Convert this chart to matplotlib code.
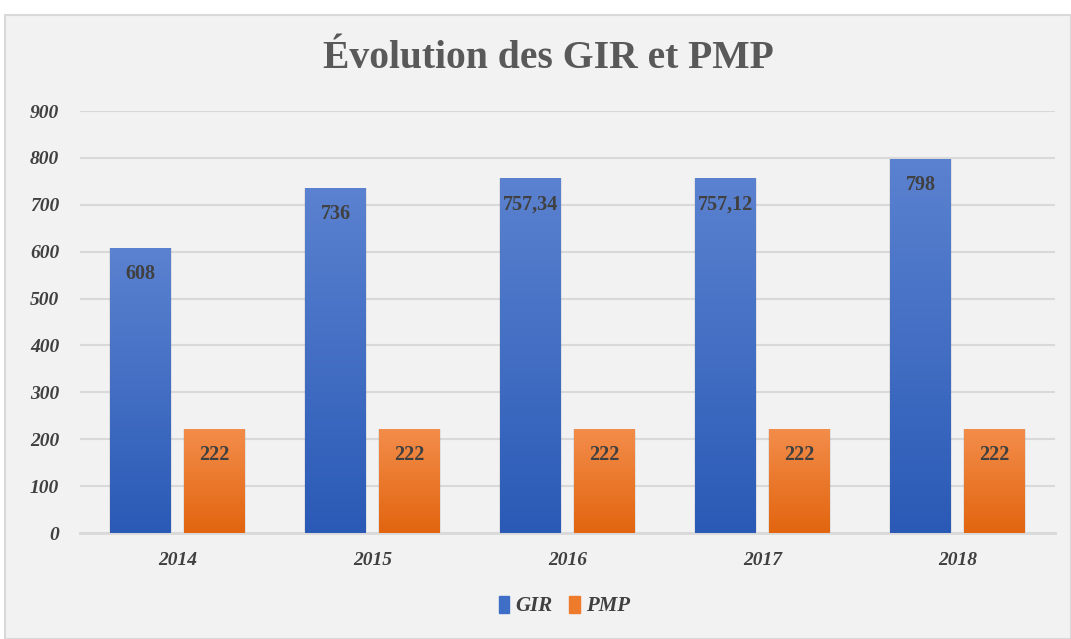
import numpy as np
import matplotlib
matplotlib.use("Agg")
import matplotlib.pyplot as plt
from matplotlib.patches import Rectangle
from matplotlib.colors import LinearSegmentedColormap

years = ["2014", "2015", "2016", "2017", "2018"]
gir = [608, 736, 757.34, 757.12, 798]
pmp = [222, 222, 222, 222, 222]
gir_labels = ["608", "736", "757,34", "757,12", "798"]
pmp_labels = ["222", "222", "222", "222", "222"]

TEXT = "#404040"
SERIF = ["Liberation Serif", "DejaVu Serif"]
plt.rcParams["font.family"] = SERIF

fig = plt.figure(figsize=(10.71, 6.39), dpi=100)
fig.patch.set_facecolor("white")

# chart area background (light grey panel with a thin border)
fig.patches.append(Rectangle((5 / 1071, 0), 1 - 5 / 1071, 1 - 15 / 639,
                             transform=fig.transFigure, facecolor="#f2f2f2",
                             edgecolor="#d9d9d9", lw=1.5, zorder=-10))

ax = fig.add_axes([80 / 1071, 1 - 533 / 639, 975 / 1071, 422 / 639])
ax.set_facecolor("none")

x = np.arange(len(years))
w = 0.31
off = 0.19

blue_cmap = LinearSegmentedColormap.from_list("b", ["#2a5ab6", "#5b82d0"])
orange_cmap = LinearSegmentedColormap.from_list("o", ["#e2650f", "#f38d4b"])

bars_g = ax.bar(x - off, gir, w, color="#3f6ec6", zorder=3)
bars_p = ax.bar(x + off, pmp, w, color="#ee7a2c", zorder=3)

grad = np.linspace(0, 1, 256).reshape(-1, 1)
for bars, cmap in ((bars_g, blue_cmap), (bars_p, orange_cmap)):
    for b in bars:
        x0, y0 = b.get_x(), b.get_y()
        bw, bh = b.get_width(), b.get_height()
        # soft shadow
        ax.add_patch(Rectangle((x0 - 0.006, y0), bw + 0.012, bh,
                               facecolor="#000000", alpha=0.07, lw=0, zorder=2))
        im = ax.imshow(grad, cmap=cmap, origin="lower", aspect="auto",
                       extent=(x0, x0 + bw, y0, y0 + bh), zorder=4)
        im.set_clip_path(b)

for b, lab in zip(bars_g, gir_labels):
    ax.annotate(lab, (b.get_x() + b.get_width() / 2, b.get_height()),
                xytext=(0, -19), textcoords="offset points", ha="center",
                va="center", fontsize=14.5, fontweight="bold", color=TEXT, zorder=6)
for b, lab in zip(bars_p, pmp_labels):
    ax.annotate(lab, (b.get_x() + b.get_width() / 2, b.get_height()),
                xytext=(0, -19), textcoords="offset points", ha="center",
                va="center", fontsize=14.5, fontweight="bold", color=TEXT, zorder=6)

ax.set_xlim(-0.5, 4.5)
ax.set_ylim(0, 900)
ax.set_yticks(range(0, 901, 100))
ax.set_xticks(x)
ax.set_xticklabels(years)
ax.grid(axis="y", color="#d9d9d9", lw=1.5, zorder=0)
ax.set_axisbelow(True)
for s in ("top", "right", "left"):
    ax.spines[s].set_visible(False)
ax.spines["bottom"].set_color("#d9d9d9")
ax.spines["bottom"].set_linewidth(2)
ax.tick_params(length=0, colors=TEXT, labelsize=14)
ax.tick_params(axis="y", pad=15)
ax.tick_params(axis="x", pad=14)
for t in ax.get_xticklabels() + ax.get_yticklabels():
    t.set_fontstyle("italic")
    t.set_fontweight("bold")
    t.set_color(TEXT)

fig.text(0.512, 1 - 58 / 639, "Évolution des GIR et PMP", ha="center",
         va="center", fontsize=28.5, fontweight="bold", color="#595959")

h1 = Rectangle((0, 0), 1, 1, color="#3f6ec6")
h2 = Rectangle((0, 0), 1, 1, color="#ee7a2c")
fig.legend([h1, h2], ["GIR", "PMP"], loc="center", bbox_to_anchor=(0.527, 1 - 606 / 639),
           ncol=2, frameon=False, handlelength=0.5, handleheight=0.9,
           handletextpad=0.3, columnspacing=0.8,
           prop={"family": SERIF, "style": "italic", "weight": "bold", "size": 15},
           labelcolor=TEXT)

fig.savefig("out.png", dpi=100)
